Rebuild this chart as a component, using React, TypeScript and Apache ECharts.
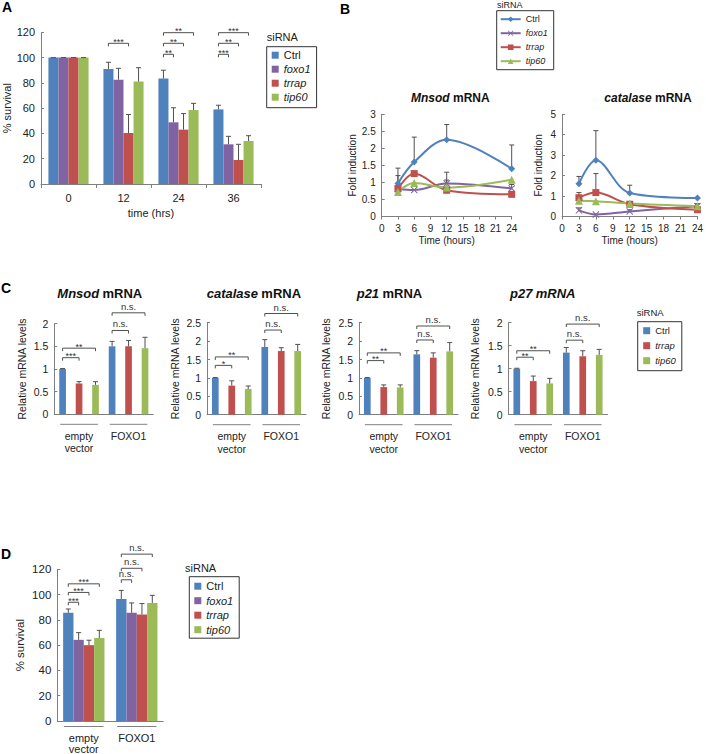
import React, { useEffect, useRef } from 'react';
import * as echarts from 'echarts';

const FONT = '"Liberation Sans", Arial, Helvetica, sans-serif';
const TXT = '#222222';
const AXIS = '#7f7f7f';
const ERR = '#505050';

const colors: Record<string, string> = { Ctrl: '#4F81BD', foxo1: '#8064A2', trrap: '#C0504D', tip60: '#9BBB59' };
const siRNA4 = ['Ctrl', 'foxo1', 'trrap', 'tip60'];
const siRNA3 = ['Ctrl', 'trrap', 'tip60'];

// ---------- Panel A : % survival over time ----------
const aTimes = ['0', '12', '24', '36'];
const aCtrl = [100, 91, 83.5, 59];
const aCtrlErr = [0, 5.3, 6.5, 3.3];
const aFoxo1 = [100, 82.5, 48.8, 31.4];
const aFoxo1Err = [0, 9, 11.5, 6.3];
const aTrrap = [100, 40.3, 43, 19];
const aTrrapErr = [0, 14.7, 12.7, 12.4];
const aTip60 = [100, 81, 58.5, 34];
const aTip60Err = [0, 11, 5.3, 4.2];
// [category, fromBar, toBar, level, label]
const aBrackets: [number, number, number, number, string][] = [
  [1, 0, 2, 111.3, '***'],
  [2, 0, 1, 102.6, '**'],
  [2, 0, 2, 111.3, '**'],
  [2, 0, 3, 119.7, '**'],
  [3, 0, 1, 102.6, '***'],
  [3, 0, 2, 111.3, '**'],
  [3, 0, 3, 119.7, '***'],
];

// ---------- Panel B : fold induction time courses ----------
const bTimes = [3, 6, 12, 24];
const bMnsodCtrl = [0.97, 1.6, 2.25, 1.4];
const bMnsodFoxo1 = [0.8, 0.78, 0.97, 0.82];
const bMnsodTrrap = [0.82, 1.26, 0.77, 0.65];
const bMnsodTip60 = [0.72, 0.98, 0.85, 1.08];
const bMnsodCtrlErr = [0.45, 0.73, 0.45, 0.7];
const bMnsodFoxo1Err = [0, 0, 0.33, 0.12];
const bMnsodTrrapErr = [0.38, 0, 0.3, 0];
const bMnsodTip60Err = [0, 0, 0, 0];
const bCatCtrl = [1.6, 2.75, 1.15, 0.9];
const bCatFoxo1 = [0.3, 0.1, 0.25, 0.5];
const bCatTrrap = [0.92, 1.17, 0.6, 0.33];
const bCatTip60 = [0.77, 0.75, 0.63, 0.5];
const bCatCtrlErr = [0.36, 1.45, 0.38, 0];
const bCatFoxo1Err = [0.12, 0, 0.08, 0.1];
const bCatTrrapErr = [0.25, 0.93, 0, 0];
const bCatTip60Err = [0, 0, 0, 0.12];

// ---------- Panel C : relative mRNA levels ----------
const cGroups = ['empty\nvector', 'FOXO1'];
const cMnsodCtrl = [1.0, 1.5];
const cMnsodCtrlErr = [0.01, 0.11];
const cMnsodTrrap = [0.68, 1.5];
const cMnsodTrrapErr = [0.04, 0.13];
const cMnsodTip60 = [0.65, 1.46];
const cMnsodTip60Err = [0.07, 0.24];
const cCatCtrl = [1.0, 1.84];
const cCatCtrlErr = [0.01, 0.2];
const cCatTrrap = [0.79, 1.73];
const cCatTrrapErr = [0.13, 0.09];
const cCatTip60 = [0.7, 1.73];
const cCatTip60Err = [0.08, 0.18];
const cP21Ctrl = [1.0, 1.64];
const cP21CtrlErr = [0.01, 0.1];
const cP21Trrap = [0.75, 1.55];
const cP21TrrapErr = [0.06, 0.13];
const cP21Tip60 = [0.74, 1.72];
const cP21Tip60Err = [0.07, 0.24];
const cP27Ctrl = [1.0, 1.35];
const cP27CtrlErr = [0.01, 0.11];
const cP27Trrap = [0.73, 1.27];
const cP27TrrapErr = [0.11, 0.12];
const cP27Tip60 = [0.68, 1.3];
const cP27Tip60Err = [0.11, 0.12];
const cMnsodBrackets: [number, number, number, number, string][] = [
  [0, 0, 1, 1.25, '***'], [0, 0, 2, 1.46, '**'], [1, 0, 1, 1.85, 'n.s.'], [1, 0, 2, 2.24, 'n.s.'],
];
const cCatBrackets: [number, number, number, number, string][] = [
  [0, 0, 1, 1.34, '*'], [0, 0, 2, 1.57, '**'], [1, 0, 1, 2.3, 'n.s.'], [1, 0, 2, 2.75, 'n.s.'],
];
const cP21Brackets: [number, number, number, number, string][] = [
  [0, 0, 1, 1.47, '**'], [0, 0, 2, 1.68, '**'], [1, 0, 1, 2.03, 'n.s.'], [1, 0, 2, 2.41, 'n.s.'],
];
const cP27Brackets: [number, number, number, number, string][] = [
  [0, 0, 1, 1.25, '**'], [0, 0, 2, 1.39, '**'], [1, 0, 1, 1.62, 'n.s.'], [1, 0, 2, 1.97, 'n.s.'],
];

// ---------- Panel D : % survival ----------
const dGroups = ['empty\nvector', 'FOXO1'];
const dCtrl = [85.6, 96.5];
const dCtrlErr = [3, 6.8];
const dFoxo1 = [64.2, 85.6];
const dFoxo1Err = [5.7, 7.8];
const dTrrap = [60, 84.3];
const dTrrapErr = [3.9, 8.6];
const dTip60 = [65.7, 93.4];
const dTip60Err = [6, 6];
const dBrackets: [number, number, number, number, string][] = [
  [0, 0, 1, 93.9, '***'], [0, 0, 2, 101.7, '***'], [0, 0, 3, 108.5, '***'],
  [1, 0, 1, 111.7, 'n.s.'], [1, 0, 2, 120.8, 'n.s.'], [1, 0, 3, 132, 'n.s.'],
];

const X_SYMBOL = 'path://M1,0 L5,4 L9,0 L10,1 L6,5 L10,9 L9,10 L5,6 L1,10 L0,9 L4,5 L0,1 Z';
const SYMBOLS: Record<string, string> = { Ctrl: 'diamond', foxo1: X_SYMBOL, trrap: 'rect', tip60: 'triangle' };

function barCenter(api: any, ci: number, si: number, n: number, cg: number, bg: number) {
  const band = api.size([1, 0])[0];
  const w = (band * (1 - cg)) / (n + (n - 1) * bg);
  const total = n * w + (n - 1) * w * bg;
  const cx = api.coord([ci, 0])[0];
  return { x: cx - total / 2 + w / 2 + si * w * (1 + bg), w, total, cx };
}

function barSeries(prefix: string, gi: number, names: string[], vals: number[][], cg: number, bg: number) {
  return names.map((n, i) => ({
    type: 'bar',
    name: prefix + ':' + n,
    xAxisIndex: gi,
    yAxisIndex: gi,
    data: vals[i],
    itemStyle: { color: colors[n] },
    barCategoryGap: cg * 100 + '%',
    barGap: bg * 100 + '%',
    silent: true,
  }));
}

function barErrSeries(gi: number, vals: number[][], errs: number[][], cg: number, bg: number) {
  const n = vals.length;
  const data: number[][] = [];
  vals.forEach((arr, si) => arr.forEach((v, ci) => data.push([ci, si, v, errs[si][ci]])));
  return {
    type: 'custom',
    xAxisIndex: gi,
    yAxisIndex: gi,
    silent: true,
    clip: false,
    z: 5,
    data,
    encode: { x: 0, y: 2 },
    renderItem: (_p: any, api: any) => {
      const ci = api.value(0), si = api.value(1), v = api.value(2), e = api.value(3);
      const { x } = barCenter(api, ci, si, n, cg, bg);
      const y0 = api.coord([ci, v])[1];
      const y1 = api.coord([ci, v + e])[1];
      return {
        type: 'group',
        children: [
          { type: 'line', shape: { x1: x, y1: y0, x2: x, y2: y1 }, style: { stroke: ERR, lineWidth: 1 } },
          { type: 'line', shape: { x1: x - 2.5, y1: y1, x2: x + 2.5, y2: y1 }, style: { stroke: ERR, lineWidth: 1 } },
        ],
      };
    },
  };
}

function bracketSeries(gi: number, n: number, br: [number, number, number, number, string][], cg: number, bg: number) {
  return {
    type: 'custom',
    xAxisIndex: gi,
    yAxisIndex: gi,
    silent: true,
    clip: false,
    z: 6,
    data: br.map((b) => [b[0], b[3], b[1], b[2]]),
    encode: { x: 0, y: 1 },
    renderItem: (p: any, api: any) => {
      const ci = api.value(0), lvl = api.value(1), i0 = api.value(2), i1 = api.value(3);
      const label = br[p.dataIndex][4];
      const x0 = barCenter(api, ci, i0, n, cg, bg).x;
      const x1 = barCenter(api, ci, i1, n, cg, bg).x;
      const y = api.coord([ci, lvl])[1];
      const stars = label !== 'n.s.';
      return {
        type: 'group',
        children: [
          { type: 'polyline', shape: { points: [[x0, y + 3], [x0, y], [x1, y], [x1, y + 3]] }, style: { stroke: ERR, lineWidth: 1, fill: null } },
          {
            type: 'text',
            style: {
              text: label, x: (x0 + x1) / 2, y: stars ? y + 3 : y - 1.5, align: 'center', verticalAlign: 'bottom',
              fontSize: stars ? 9 : 9.5, fontFamily: FONT, fill: '#333',
            },
          },
        ],
      };
    },
  };
}

function underlineSeries(gi: number, groups: string[], n: number, cg: number, bg: number, off: number) {
  return {
    type: 'custom',
    xAxisIndex: gi,
    yAxisIndex: gi,
    silent: true,
    clip: false,
    data: groups.map((_g, i) => [i, 0]),
    encode: { x: 0, y: 1 },
    renderItem: (_p: any, api: any) => {
      const ci = api.value(0);
      const b = barCenter(api, ci, 0, n, cg, bg);
      const y = api.coord([ci, 0])[1] + off;
      return { type: 'line', shape: { x1: b.cx - b.total / 2 + 1, y1: y, x2: b.cx + b.total / 2 - 1, y2: y }, style: { stroke: '#808080', lineWidth: 1 } };
    },
  };
}

function lineSeries(gi: number, vals: number[][]) {
  return siRNA4.map((n, i) => ({
    type: 'line',
    name: 'B:' + n,
    xAxisIndex: gi,
    yAxisIndex: gi,
    data: bTimes.map((t, j) => [t, vals[i][j]]),
    smooth: 0.35,
    symbol: SYMBOLS[n],
    symbolSize: n === 'tip60' ? 8 : 7,
    showSymbol: true,
    lineStyle: { width: 2, color: colors[n] },
    itemStyle: { color: colors[n] },
    silent: true,
    z: 3,
  }));
}

function lineErrSeries(gi: number, vals: number[][], errs: number[][]) {
  const data: number[][] = [];
  vals.forEach((arr, si) => arr.forEach((v, j) => { if (errs[si][j] > 0) data.push([bTimes[j], v, errs[si][j]]); }));
  return {
    type: 'custom',
    xAxisIndex: gi,
    yAxisIndex: gi,
    silent: true,
    clip: false,
    z: 2,
    data,
    encode: { x: 0, y: 1 },
    renderItem: (_p: any, api: any) => {
      const t = api.value(0), v = api.value(1), e = api.value(2);
      const p0 = api.coord([t, v]);
      const p1 = api.coord([t, v + e]);
      return {
        type: 'group',
        children: [
          { type: 'line', shape: { x1: p0[0], y1: p0[1], x2: p1[0], y2: p1[1] }, style: { stroke: ERR, lineWidth: 1 } },
          { type: 'line', shape: { x1: p1[0] - 2.5, y1: p1[1], x2: p1[0] + 2.5, y2: p1[1] }, style: { stroke: ERR, lineWidth: 1 } },
        ],
      };
    },
  };
}

const axisLine = { show: true, lineStyle: { color: AXIS, width: 1 } };

function yAxisCfg(gi: number, max: number, interval: number, name: string, nameGap: number, fontSize: number, nameSize: number) {
  return {
    gridIndex: gi, type: 'value', min: 0, max, interval,
    axisLine, splitLine: { show: false },
    axisTick: { show: true, inside: true, length: 3, lineStyle: { color: AXIS } },
    axisLabel: { fontSize, fontFamily: FONT, color: TXT, margin: 6 },
    name, nameLocation: 'middle', nameGap, nameRotate: 90,
    nameTextStyle: { fontSize: nameSize, fontFamily: FONT, color: TXT },
  };
}

function catXAxis(gi: number, data: string[], fontSize: number, margin: number, lineHeight: number, ticks: boolean, name?: string, nameGap?: number) {
  return {
    gridIndex: gi, type: 'category', data,
    axisLine,
    axisTick: { show: ticks, length: 4, lineStyle: { color: AXIS } },
    axisLabel: { fontSize, fontFamily: FONT, color: TXT, margin, lineHeight, interval: 0 },
    name, nameLocation: 'middle', nameGap,
    nameTextStyle: { fontSize: 11, fontFamily: FONT, color: TXT },
  };
}

function timeXAxis(gi: number) {
  return {
    gridIndex: gi, type: 'value', min: 0, max: 24, interval: 3,
    axisLine, splitLine: { show: false },
    axisTick: { show: true, length: 3, lineStyle: { color: AXIS } },
    axisLabel: { fontSize: 10, fontFamily: FONT, color: TXT, margin: 7 },
    name: 'Time (hours)', nameLocation: 'middle', nameGap: 19,
    nameTextStyle: { fontSize: 10, fontFamily: FONT, color: TXT },
  };
}

const legendFmt = (name: string) => {
  const s = name.split(':')[1];
  return s === 'Ctrl' ? s : '{i|' + s + '}';
};

function legendCfg(prefix: string, names: string[], left: number, top: number, fontSize: number, pad: number[], gap: number, iw: number, ih: number, icon?: string) {
  return {
    left, top, orient: 'vertical', selectedMode: false,
    borderColor: '#333', borderWidth: 1, padding: pad, itemGap: gap, itemWidth: iw, itemHeight: ih,
    icon,
    data: names.map((n) => prefix + ':' + n),
    formatter: legendFmt,
    textStyle: {
      fontSize, fontFamily: FONT, fontWeight: 'normal', color: TXT,
      rich: { i: { fontSize, fontFamily: FONT, fontStyle: 'italic', fontWeight: 'normal', color: TXT } },
    },
  };
}

function txt(text: string, x: number, y: number, fontSize: number, opts: any = {}) {
  return {
    type: 'text', x, y, silent: true,
    style: { text, fontSize, fontFamily: FONT, fill: TXT, align: 'left', verticalAlign: 'middle', ...opts },
  };
}

function titleTxt(italicPart: string, rest: string, x: number, y: number, fontSize: number, allItalic = false) {
  return {
    type: 'text', x, y, silent: true,
    style: {
      text: '{i|' + italicPart + '} {b|' + rest + '}',
      verticalAlign: 'middle', align: 'left',
      rich: {
        i: { fontSize, fontFamily: FONT, fontWeight: 'bold', fontStyle: 'italic', fill: '#111' },
        b: { fontSize, fontFamily: FONT, fontWeight: 'bold', fontStyle: allItalic ? 'italic' : 'normal', fill: '#111' },
      },
    },
  };
}

const A_CG = 0.27, A_BG = 0;
const C_CG = 0.2, C_BG = 1.46;
const D_CG = 0.22, D_BG = 0;

function buildOption() {
  const aVals = [aCtrl, aFoxo1, aTrrap, aTip60];
  const aErrs = [aCtrlErr, aFoxo1Err, aTrrapErr, aTip60Err];
  const cSets = [
    { gi: 3, vals: [cMnsodCtrl, cMnsodTrrap, cMnsodTip60], errs: [cMnsodCtrlErr, cMnsodTrrapErr, cMnsodTip60Err], br: cMnsodBrackets },
    { gi: 4, vals: [cCatCtrl, cCatTrrap, cCatTip60], errs: [cCatCtrlErr, cCatTrrapErr, cCatTip60Err], br: cCatBrackets },
    { gi: 5, vals: [cP21Ctrl, cP21Trrap, cP21Tip60], errs: [cP21CtrlErr, cP21TrrapErr, cP21Tip60Err], br: cP21Brackets },
    { gi: 6, vals: [cP27Ctrl, cP27Trrap, cP27Tip60], errs: [cP27CtrlErr, cP27TrrapErr, cP27Tip60Err], br: cP27Brackets },
  ];
  const dVals = [dCtrl, dFoxo1, dTrrap, dTip60];
  const dErrs = [dCtrlErr, dFoxo1Err, dTrrapErr, dTip60Err];

  const series: any[] = [
    ...barSeries('A', 0, siRNA4, aVals, A_CG, A_BG),
    barErrSeries(0, aVals, aErrs, A_CG, A_BG),
    bracketSeries(0, 4, aBrackets, A_CG, A_BG),
    ...lineSeries(1, [bMnsodCtrl, bMnsodFoxo1, bMnsodTrrap, bMnsodTip60]),
    lineErrSeries(1, [bMnsodCtrl, bMnsodFoxo1, bMnsodTrrap, bMnsodTip60], [bMnsodCtrlErr, bMnsodFoxo1Err, bMnsodTrrapErr, bMnsodTip60Err]),
    ...lineSeries(2, [bCatCtrl, bCatFoxo1, bCatTrrap, bCatTip60]),
    lineErrSeries(2, [bCatCtrl, bCatFoxo1, bCatTrrap, bCatTip60], [bCatCtrlErr, bCatFoxo1Err, bCatTrrapErr, bCatTip60Err]),
  ];
  cSets.forEach((c) => {
    series.push(...barSeries('C', c.gi, siRNA3, c.vals, C_CG, C_BG));
    series.push(barErrSeries(c.gi, c.vals, c.errs, C_CG, C_BG));
    series.push(bracketSeries(c.gi, 3, c.br, C_CG, C_BG));
    series.push(underlineSeries(c.gi, cGroups, 3, C_CG, C_BG, 10));
  });
  series.push(...barSeries('D', 7, siRNA4, dVals, D_CG, D_BG));
  series.push(barErrSeries(7, dVals, dErrs, D_CG, D_BG));
  series.push(bracketSeries(7, 4, dBrackets, D_CG, D_BG));
  series.push(underlineSeries(7, dGroups, 4, D_CG, D_BG, 5.5));

  return {
    animation: false,
    backgroundColor: '#ffffff',
    textStyle: { fontFamily: FONT },
    grid: [
      { left: 41, top: 32.3, width: 220, height: 151.7 },
      { left: 381.7, top: 114.3, width: 130, height: 102.2 },
      { left: 562, top: 114.3, width: 137.7, height: 102.2 },
      { left: 54.3, top: 323.7, width: 99, height: 90.6 },
      { left: 207, top: 322.7, width: 99, height: 92 },
      { left: 359, top: 322.7, width: 99, height: 92 },
      { left: 508.5, top: 322.7, width: 99, height: 92 },
      { left: 57.3, top: 569.3, width: 106, height: 153.4 },
    ],
    xAxis: [
      catXAxis(0, aTimes, 11, 7, 13, true, 'time (hrs)', 23),
      timeXAxis(1),
      timeXAxis(2),
      catXAxis(3, cGroups, 10.5, 15, 12.7, false),
      catXAxis(4, cGroups, 10.5, 15, 12.7, false),
      catXAxis(5, cGroups, 10.5, 15, 12.7, false),
      catXAxis(6, cGroups, 10.5, 15, 12.7, false),
      catXAxis(7, dGroups, 11, 11, 11, false),
    ],
    yAxis: [
      yAxisCfg(0, 120, 20, '% survival', 28, 11, 11),
      yAxisCfg(1, 3, 0.5, 'Fold induction', 24, 10, 10),
      yAxisCfg(2, 5, 1, 'Fold induction', 19, 10, 10),
      yAxisCfg(3, 2, 0.5, 'Relative mRNA levels', 27, 10.5, 10.5),
      yAxisCfg(4, 2.5, 0.5, 'Relative mRNA levels', 27, 10.5, 10.5),
      yAxisCfg(5, 2.5, 0.5, 'Relative mRNA levels', 28, 10.5, 10.5),
      yAxisCfg(6, 2, 0.5, 'Relative mRNA levels', 28, 10.5, 10.5),
      yAxisCfg(7, 120, 20, '% survival', 31, 11.5, 11.5),
    ],
    legend: [
      legendCfg('A', siRNA4, 266.7, 46.7, 11, [3, 6, 5, 5], 3, 7, 7, 'rect'),
      legendCfg('B', siRNA4, 496.7, 10.7, 9, [4, 6, 4, 3], 5, 20, 7),
      legendCfg('C', siRNA3, 637.7, 321.7, 9.5, [4, 6, 5, 5.5], 5, 7, 7, 'rect'),
      legendCfg('D', siRNA4, 189.3, 576.7, 11, [4, 6, 3, 5], 3.5, 7, 7, 'rect'),
    ],
    graphic: [
      txt('A', 2, 7, 14, { fontWeight: 'bold', fill: '#000' }),
      txt('B', 340, 9, 14, { fontWeight: 'bold', fill: '#000' }),
      txt('C', 1, 288, 14, { fontWeight: 'bold', fill: '#000' }),
      txt('D', 1, 554.3, 14, { fontWeight: 'bold', fill: '#000' }),
      txt('siRNA', 266.7, 37.3, 11),
      txt('siRNA', 497, 5, 9),
      txt('siRNA', 636.7, 312.3, 9.5),
      txt('siRNA', 185, 568.3, 11),
      titleTxt('Mnsod', 'mRNA', 411, 97.7, 12),
      titleTxt('catalase', 'mRNA', 604.3, 97.7, 12),
      titleTxt('Mnsod', 'mRNA', 57.3, 293, 13),
      titleTxt('catalase', 'mRNA', 206.7, 293, 13),
      titleTxt('p21', 'mRNA', 356.7, 293, 13),
      titleTxt('p27', 'mRNA', 510, 293, 13, true),
    ],
    series,
  };
}

export default function App() {
  const ref = useRef<HTMLDivElement>(null);
  useEffect(() => {
    if (!ref.current) return;
    const chart = echarts.init(ref.current, null, { renderer: 'svg' });
    chart.setOption(buildOption() as any);
    return () => chart.dispose();
  }, []);
  return (
    <div
      ref={ref}
      style={{ position: 'absolute', left: 0, top: 0, width: 706, height: 754, background: '#ffffff' }}
    />
  );
}
